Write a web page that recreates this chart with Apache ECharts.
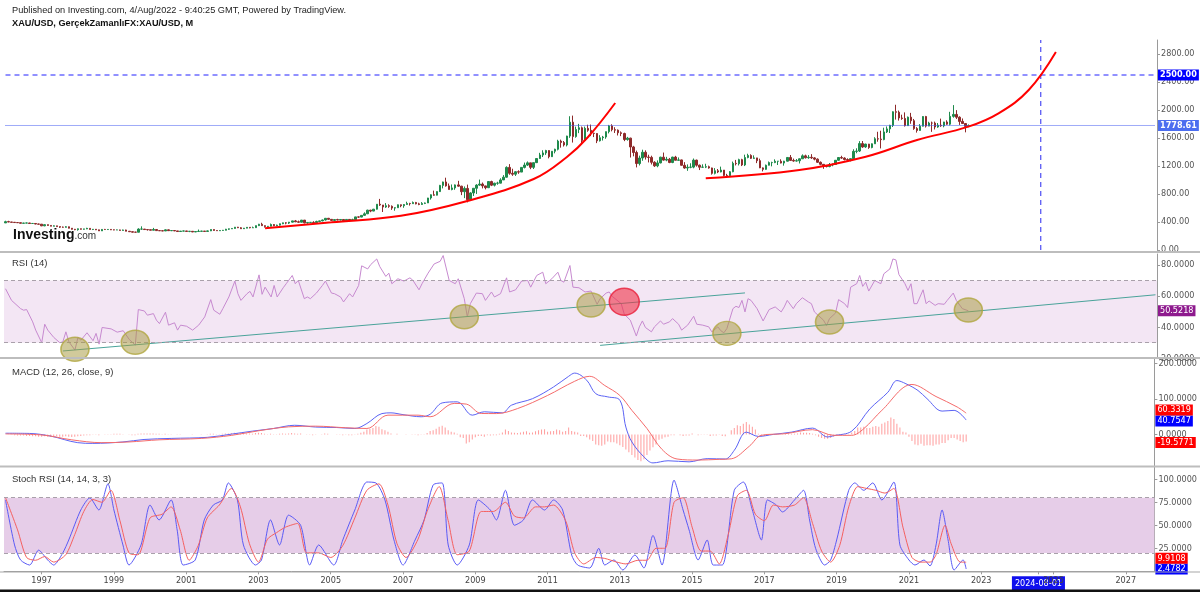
<!DOCTYPE html>
<html>
<head>
<meta charset="utf-8">
<title>XAU/USD</title>
<script src="https://cdn.jsdelivr.net/npm/echarts/dist/echarts.min.js"></script>
<style>
html, body { margin: 0; padding: 0; background: #fff; }
#chart { width: 1200px; height: 592px; }
</style>
</head>
<body>
<div id="chart"></div>
<script>
// monthly categories 1996-01 .. 2027-10
const months = [];
for (let y = 1996; y <= 2027; y++) {
  for (let m = 1; m <= 12; m++) {
    if (months.length < 382) months.push(y + '-' + (m < 10 ? '0' + m : m));
  }
}

// XAU/USD monthly candles, 1996-01 .. 2022-08
const opens = [
  387,405,400,396,392,390,382,385,386,379,379,371,
  369,345,362,351,340,345,334,326,325,332,311,296,
  290,303,297,301,309,293,296,288,273,294,292,294,
  288,287,287,280,286,268,261,255,254,299,299,292,
  290,283,293,277,275,272,288,276,278,273,264,270,
  272,266,267,258,264,267,270,266,273,293,279,275,
  279,282,297,302,308,326,318,304,312,324,317,319,
  348,368,348,336,339,364,346,355,375,388,384,398,
  416,403,397,427,388,394,395,391,408,416,429,453,
  438,423,434,428,436,417,437,429,433,473,470,495,
  517,569,556,583,654,643,614,633,624,599,604,646,
  632,650,665,662,679,659,650,666,672,743,789,783,
  834,923,972,916,864,887,930,912,833,880,718,815,
  882,927,942,916,890,978,926,954,955,1001,1040,1180,
  1096,1083,1118,1113,1180,1213,1245,1181,1248,1307,1357,1387,
  1421,1333,1411,1439,1556,1536,1500,1628,1826,1620,1722,1746,
  1565,1738,1710,1668,1664,1560,1604,1614,1691,1773,1719,1712,
  1675,1664,1578,1598,1472,1393,1235,1314,1396,1327,1323,1253,
  1202,1244,1326,1284,1296,1250,1327,1282,1287,1210,1171,1182,
  1184,1284,1212,1183,1184,1190,1172,1095,1132,1115,1142,1065,
  1061,1118,1238,1233,1291,1215,1321,1351,1309,1316,1276,1173,
  1152,1211,1249,1249,1268,1268,1242,1269,1322,1280,1271,1275,
  1303,1345,1318,1325,1316,1298,1253,1224,1201,1192,1215,1222,
  1282,1321,1313,1292,1284,1305,1409,1414,1520,1472,1513,1464,
  1517,1589,1585,1577,1687,1730,1781,1975,1968,1886,1879,1776,
  1898,1847,1734,1708,1769,1907,1770,1814,1813,1757,1783,1774,
  1829,1797,1909,1937,1897,1837,1807,1766
];
const closes = [
  405,400,396,392,390,382,385,386,379,379,371,369,
  345,362,351,340,345,334,326,325,332,311,296,290,
  303,297,301,309,293,296,288,273,294,292,294,288,
  287,287,280,286,268,261,255,254,299,299,292,290,
  283,293,277,275,272,288,276,278,273,264,270,272,
  266,267,258,264,267,270,266,273,293,279,275,279,
  282,297,302,308,326,318,304,312,324,317,319,348,
  368,348,336,339,364,346,355,375,388,384,398,416,
  403,397,427,388,394,395,391,408,416,429,453,438,
  423,434,428,436,417,437,429,433,473,470,495,517,
  569,556,583,654,643,614,633,624,599,604,646,632,
  650,665,662,679,659,650,666,672,743,789,783,834,
  923,972,916,864,887,930,912,833,880,718,815,882,
  927,942,916,890,978,926,954,955,1001,1040,1180,1096,
  1083,1118,1113,1180,1213,1245,1181,1248,1307,1357,1387,1421,
  1333,1411,1439,1556,1536,1500,1628,1826,1620,1722,1746,1565,
  1738,1710,1668,1664,1560,1604,1614,1691,1773,1719,1712,1675,
  1664,1578,1598,1472,1393,1235,1314,1396,1327,1323,1253,1202,
  1244,1326,1284,1296,1250,1327,1282,1287,1210,1171,1182,1184,
  1284,1212,1183,1184,1190,1172,1095,1132,1115,1142,1065,1061,
  1118,1238,1233,1291,1215,1321,1351,1309,1316,1276,1173,1152,
  1211,1249,1249,1268,1268,1242,1269,1322,1280,1271,1275,1303,
  1345,1318,1325,1316,1298,1253,1224,1201,1192,1215,1222,1282,
  1321,1313,1292,1284,1305,1409,1414,1520,1472,1513,1464,1517,
  1589,1585,1577,1687,1730,1781,1975,1968,1886,1879,1776,1898,
  1847,1734,1708,1769,1907,1770,1814,1813,1757,1783,1774,1829,
  1797,1909,1937,1897,1837,1807,1766,1778.61
];
const highs = [
  418,417,400,398,395,391,387,390,388,386,383,374,
  370,366,364,354,351,346,335,335,340,334,312,301,
  307,306,303,317,309,300,298,290,300,301,300,298,
  292,290,290,291,290,270,265,260,310,338,300,296,
  290,316,300,283,282,294,292,280,280,273,271,277,
  273,270,270,266,292,274,271,279,294,294,279,280,
  286,302,306,310,329,330,326,315,327,325,334,349,
  373,389,351,342,378,370,362,378,391,397,401,417,
  429,420,429,429,394,400,411,418,420,434,456,458,
  432,437,446,438,436,440,439,447,474,479,495,538,
  575,574,587,655,730,636,670,653,637,610,650,650,
  656,690,674,693,687,675,684,678,745,795,848,838,
  930,976,1033,950,936,936,988,917,908,934,825,881,
  940,1006,964,912,982,990,961,975,1025,1070,1195,1227,
  1161,1127,1138,1181,1249,1265,1245,1248,1307,1388,1425,1431,
  1425,1411,1447,1575,1577,1557,1632,1911,1920,1763,1802,1764,
  1763,1790,1792,1676,1668,1640,1630,1693,1787,1796,1754,1722,
  1694,1676,1616,1604,1488,1420,1348,1433,1424,1361,1347,1268,
  1280,1332,1392,1331,1315,1332,1345,1322,1291,1255,1223,1239,
  1307,1290,1220,1224,1232,1205,1176,1170,1157,1191,1142,1088,
  1128,1263,1287,1304,1303,1362,1375,1367,1352,1317,1305,1180,
  1220,1264,1261,1295,1270,1296,1274,1325,1357,1306,1299,1307,
  1366,1362,1356,1369,1326,1309,1265,1221,1214,1243,1237,1284,
  1326,1346,1324,1310,1305,1439,1453,1555,1557,1518,1516,1523,
  1611,1689,1704,1747,1765,1789,1981,2075,1992,1933,1966,1906,
  1959,1872,1755,1798,1912,1916,1832,1834,1834,1814,1877,1831,
  1853,1974,2070,1998,1910,1879,1814,1794
];
const lows = [
  387,398,395,390,389,380,381,384,378,377,368,366,
  341,340,347,339,339,333,315,318,321,309,292,283,
  277,292,292,298,292,285,285,272,273,290,290,285,
  283,285,278,278,268,258,252,251,254,289,290,278,
  282,282,276,272,270,272,275,270,270,263,263,267,
  262,255,256,256,262,265,265,264,270,277,272,272,
  277,281,287,300,305,313,302,300,311,310,315,316,
  342,346,320,324,338,341,340,350,369,367,371,394,
  398,389,394,381,375,387,387,385,398,411,422,433,
  418,411,425,423,414,415,418,427,431,457,468,492,
  513,540,554,578,630,543,602,603,573,561,603,611,
  603,646,635,660,652,640,644,656,672,720,776,780,
  846,880,905,864,853,860,905,784,741,681,705,772,
  801,917,880,866,885,913,908,932,995,1000,1035,1075,
  1059,1058,1088,1113,1165,1200,1155,1157,1242,1315,1328,1359,
  1309,1329,1381,1423,1462,1478,1480,1602,1535,1604,1669,1523,
  1563,1689,1627,1613,1527,1550,1564,1589,1666,1695,1672,1636,
  1627,1555,1562,1321,1338,1180,1208,1275,1292,1251,1222,1187,
  1182,1238,1277,1268,1240,1240,1281,1273,1206,1161,1131,1168,
  1167,1191,1142,1175,1170,1162,1077,1080,1098,1109,1052,1046,
  1061,1111,1208,1208,1199,1199,1310,1300,1302,1241,1170,1123,
  1146,1208,1195,1241,1214,1237,1205,1265,1271,1261,1264,1236,
  1302,1307,1303,1301,1281,1245,1211,1160,1180,1182,1196,1221,
  1276,1302,1280,1266,1266,1295,1382,1400,1459,1459,1445,1453,
  1517,1547,1451,1568,1671,1671,1757,1863,1849,1860,1764,1775,
  1803,1717,1677,1705,1765,1750,1792,1688,1722,1746,1759,1753,
  1788,1780,1890,1872,1787,1806,1681,1754
];

// horizontal levels and the target date drawn on the price pane
const levelTarget = 2500;
const levelLast = 1778.61;
const targetMonth = '2024-08';

// hand-drawn red curves on the price pane, [month index, price]
const curveA = [[86,312],[108,395],[131,488],[153,700],[175,1014],[186,1329],[193,1614],[202,2100]];
const curveB = [[232,1024],[263,1143],[285,1333],[302,1571],[319,1762],[329,1952],[339,2286],[348,2829]];

// RSI (14), [month index, value]
const rsiPoints = [
  [0,64.7],[2,57.2],[5,51.9],[6,50.9],[7,51.3],[9,43.4],[10,38.1],[12,30],[13,41.9],[14,38.1],
  [16,33.4],[18,30],[19,30.6],[20,37],[21,30.6],[23,25.3],[24,33.4],[25,31.7],[27,36.4],[29,31.3],
  [30,36],[31,29.1],[32,39.8],[35,38.9],[37,36.8],[39,37.7],[41,32.1],[43,28.5],[44,51.3],[46,50.4],
  [47,47.7],[49,48.7],[50,44.5],[51,42.3],[53,49.6],[54,41.3],[56,42.8],[57,38.1],[58,41.3],[60,40.6],
  [62,38.1],[64,41.3],[66,46.6],[68,57.7],[69,50.9],[71,48.3],[72,51.9],[74,59.4],[76,69.6],[77,61.5],
  [78,57.2],[80,61.5],[81,63],[82,59.4],[84,73.6],[85,61.1],[86,65.7],[88,59.4],[89,66.8],[90,59.4],
  [92,65.3],[93,67.9],[95,73.2],[96,67.9],[97,70],[99,58.3],[100,59.4],[101,58.3],[103,61.9],[105,66.8],
  [106,69.6],[108,61.9],[109,61.5],[111,59.4],[112,56.2],[114,61.5],[115,59.4],[117,66.8],[118,79.4],[120,77.4],
  [121,80.2],[123,83.8],[124,78.9],[126,72.6],[127,74.7],[128,67.9],[130,71.1],[132,69.6],[134,71.7],[135,70],
  [137,64],[138,67.9],[140,74.7],[142,80.6],[144,82.3],[145,86],[147,70],[149,67.9],[150,71.1],[152,58.3],
  [153,46.6],[154,55.1],[156,61.9],[158,61.5],[159,57.2],[161,62.6],[162,59.4],[164,61.5],[166,71.7],[167,62.6],
  [169,64],[171,69.6],[173,70],[174,65.7],[176,73.2],[178,75.3],[179,67.9],[181,71.1],[183,75.3],[184,70],
  [185,68.9],[187,79.6],[188,65.7],[190,65.3],[192,62.6],[194,63.2],[196,54.7],[197,58.3],[199,61.9],[200,62.6],
  [201,59.8],[204,55.1],[205,48.3],[207,44.5],[209,34.3],[210,40.2],[211,44],[212,39.8],[214,37],[215,40.2],
  [217,44],[218,41.9],[220,43.4],[221,45.5],[223,41.9],[224,38.1],[226,41.3],[228,47],[229,41.9],[231,41.3],
  [233,40.2],[234,37],[236,40.2],[237,37.7],[238,36.4],[239,39.1],[241,51.9],[242,53.4],[243,52.6],[244,57.2],
  [245,49.8],[246,58.3],[247,57.2],[249,51.9],[251,44],[252,47.7],[253,51.3],[255,53],[257,49.8],[258,53],
  [259,57.2],[261,51.9],[262,55.1],[264,58.9],[266,56.2],[267,55.1],[268,49.8],[271,44.5],[272,41.1],[273,45.5],
  [275,49.1],[276,57.7],[278,55.1],[279,52.6],[280,65.7],[282,67.9],[283,73.2],[284,66.2],[285,68.9],[286,63.2],
  [288,70],[289,68.9],[290,67.9],[291,74.3],[293,77.4],[294,83.8],[295,83.2],[296,73.8],[298,67.9],[299,63.6],
  [300,67.9],[301,55.1],[302,55.1],[304,64],[305,55.1],[306,56.8],[308,54],[309,55.1],[311,54.7],[312,57.2],
  [314,61.9],[315,57.2],[317,51.9],[319,50.5218]
];
// trend lines and marked circles on the RSI pane
const rsiTrendA = [[19,24.7],[245,62]];
const rsiTrendB = [[197,28.3],[381,60.8]];
const rsiMarks = [[23,25.8],[43,30.3],[152,46.7],[194,54.2],[239,36],[273,43.3],[319,51]];
const rsiRedMark = [[205,56.3]];

// MACD (12, 26, close, 9)
const macdPoints = [
  [0,3.6],[8,3],[15,-4.5],[24,-23],[29,-25],[39,-21],[46,-14],[55,-11],[67,-8],[75,1],
  [82,9.5],[89,17],[96,26],[103,21],[110,19.7],[116,17],[120,31],[125,59],[128,61],[132,56],
  [138,50],[141,57],[145,89],[150,92],[155,54.5],[159,64],[165,61],[168,82.6],[175,101],[182,134],
  [187,164],[189,173],[193,153],[196,115],[200,106],[204,96.7],[206,21],[208,-21],[212,-63],[215,-80],
  [220,-74],[227,-77],[233,-68],[239,-69],[242,-44.6],[246,6.7],[250,-5.4],[255,0.3],[261,6.7],[268,18],
  [273,-7],[275,-3.4],[281,9.5],[287,72],[293,119],[296,152],[299,143],[303,124],[306,101],[311,66],
  [315,68],[319,40.7547]
];
const signalPoints = [
  [0,1.6],[12,-1.2],[22,-15],[32,-23],[41,-21],[51,-15],[65,-11],[75,-2.5],[84,10.5],[94,21.6],
  [103,23.5],[113,19],[120,17],[127,54.5],[137,54.5],[141,50],[149,87.6],[153,85.7],[158,59.2],[163,59],
  [170,73],[180,110],[189,150],[194,164],[199,138],[204,110],[208,68],[213,17],[218,-42],[223,-69],
  [230,-72],[237,-70],[241,-68.5],[247,-33],[251,-2.3],[259,2.4],[268,13.6],[275,-2.3],[281,-2.3],[285,16.4],
  [291,68],[301,141],[309,107],[316,77.6],[319,60.3319]
];
const macdHist = [
  0,0,-1,-2,-3,-3,-3,-4,-4,-5,-5,-6,
  -6,-5,-6,-6,-5,-5,-6,-6,-5,-6,-7,-6,
  -5,-4,-3,-2,-2,-1,-1,-2,0,1,1,1,
  2,2,2,1,0,-1,-2,-2,2,3,3,3,
  3,3,2,2,1,2,1,1,0,-1,-1,0,
  0,0,-1,0,0,1,0,1,2,2,1,1,
  2,3,3,4,5,4,3,3,3,3,2,4,
  5,4,2,1,2,1,1,2,3,2,3,4,
  3,2,3,0,-1,-1,-2,-1,0,1,3,2,
  0,0,-1,-1,-2,-1,-2,-2,1,2,5,8,
  14,16,18,24,22,15,12,8,3,0,2,0,
  0,1,0,1,-1,-2,-1,-1,4,10,12,16,
  22,25,20,12,8,6,2,-8,-10,-25,-22,-14,
  -8,-4,-4,-6,-2,-3,-2,-2,2,6,14,10,
  6,5,4,6,8,9,5,6,9,12,14,15,
  8,9,10,14,12,8,10,20,10,8,6,-4,
  -4,-8,-14,-18,-28,-30,-32,-28,-20,-22,-22,-25,
  -30,-35,-42,-50,-58,-65,-72,-75,-70,-58,-45,-36,
  -28,-15,-12,-8,-6,-2,-2,0,-2,-4,-3,-3,
  3,0,-2,-1,-1,-1,-4,-3,-3,-1,-4,-5,
  0,12,18,26,24,30,35,28,22,14,2,-4,
  -4,-2,-1,0,1,0,1,4,3,2,2,3,
  6,5,5,4,2,-2,-6,-10,-12,-12,-10,-6,
  -2,0,-1,-2,-1,6,10,20,20,22,18,18,
  22,24,22,30,34,38,48,44,30,20,8,6,
  -6,-18,-28,-30,-26,-32,-30,-30,-32,-28,-28,-24,
  -24,-16,-10,-10,-14,-18,-22,-19.5771
];

// Stoch RSI (14, 14, 3, 3)
const stochK = [
  [0,77.5],[3,28.6],[5,12.3],[8,6.8],[11,23],[14,12.3],[16,6.8],[19,19.9],[21,34],[25,66.6],
  [28,79.7],[31,66.6],[34,95],[36,66.6],[39,28.6],[41,6.8],[45,28.6],[48,72],[51,55.8],[55,77.5],
  [57,44.9],[59,6.8],[63,12.3],[66,55.8],[69,72],[72,77.5],[74,96],[77,77.5],[79,28.6],[83,6.8],
  [85,12.3],[88,55.8],[91,28.6],[94,61],[98,50],[101,6.8],[104,28.6],[109,6.8],[112,34],[116,66.6],
  [120,97],[123,96],[126,77.5],[129,34],[132,6.8],[136,34],[139,55.8],[142,93.8],[145,96],[147,28.6],
  [150,6.8],[154,28.6],[157,77.5],[161,66.6],[163,55.8],[166,88],[169,50],[172,55.8],[175,77.5],[179,66.6],
  [182,77.5],[185,66.6],[188,17.7],[190,6.8],[194,3.6],[197,25],[199,6.8],[202,12.3],[205,1.4],[209,17.7],
  [212,3.6],[215,39],[218,6.8],[222,99],[225,66.6],[227,44.9],[230,12.3],[233,34],[235,6.8],[238,6.8],
  [242,88],[245,97],[248,66.6],[251,34],[253,77.5],[256,72],[258,64.5],[262,77.5],[265,88],[267,55.8],
  [269,25],[272,6.8],[274,12.3],[276,34],[280,88],[282,96],[285,88],[288,96],[291,77.5],[295,97],
  [297,28.6],[300,12.3],[302,6.8],[305,12.3],[307,5.8],[309,28.6],[311,66.6],[313,34],[315,1.4],[318,12.3],
  [319,2.4782]
];
const stochD = [
  [0,80],[4,45],[7,15],[10,12],[13,16],[16,10],[20,18],[23,40],[26,65],[29,78],
  [32,75],[35,88],[38,55],[41,20],[44,18],[48,58],[52,62],[55,70],[58,45],[61,12],
  [64,28],[67,58],[71,72],[75,90],[78,70],[81,30],[84,10],[87,35],[90,42],[93,48],
  [97,52],[100,20],[104,20],[108,15],[112,28],[116,58],[120,88],[124,95],[127,72],[130,30],
  [133,15],[137,35],[140,65],[144,92],[147,55],[150,18],[154,22],[158,65],[162,65],[166,75],
  [169,60],[172,58],[176,70],[179,70],[182,72],[186,55],[189,20],[192,8],[196,15],[199,14],
  [203,10],[206,8],[210,12],[213,12],[216,25],[219,25],[222,75],[225,80],[228,48],[231,22],
  [234,22],[237,8],[240,40],[243,82],[246,88],[249,62],[252,55],[255,72],[258,70],[262,72],
  [265,80],[268,52],[271,22],[274,10],[277,28],[280,70],[283,92],[286,90],[289,88],[292,85],
  [295,90],[298,48],[301,15],[304,10],[307,10],[309,18],[312,50],[314,30],[317,10],[319,9.9108]
];

const candleData = closes.map(function (c, i) { return [opens[i], c, lows[i], highs[i]]; });
const lastIdx = months.length - 1;

const chart = echarts.init(document.getElementById('chart'));

const AXIS_FONT = '"Liberation Sans Narrow", "DejaVu Sans Condensed", sans-serif';
const L = 4, R = 43;

function tag(v, bg, dy, digits, bold) {
  return {
    yAxis: v,
    lineStyle: { color: 'rgba(0,0,0,0)', width: 0 },
    label: {
      show: true, position: 'end', distance: 1, offset: [0, dy],
      formatter: v.toFixed(digits), color: '#fff', backgroundColor: bg,
      padding: [1, 2, 1, 2], fontSize: 9, fontFamily: AXIS_FONT, fontWeight: bold ? 'bold' : 'normal'
    }
  };
}
function bandLine(v) {
  return { yAxis: v, lineStyle: { color: '#a9a0aa', type: [4, 3], width: 1 }, label: { show: false } };
}

function xAxisFor(i, visible) {
  const ax = {
    type: 'category', gridIndex: i, data: months, boundaryGap: true,
    axisLine: { show: false }, axisTick: { show: false }, axisLabel: { show: false },
    splitLine: { show: false }
  };
  if (visible) {
    const pick = function (idx, v) {
      return (v.slice(5) === '01' && (+v.slice(0, 4)) % 2 === 1) || v === targetMonth;
    };
    ax.axisLine = { show: true, lineStyle: { color: '#9a9a9a' } };
    ax.axisTick = { show: true, interval: pick, alignWithLabel: true, length: 3, lineStyle: { color: '#9a9a9a' } };
    ax.axisLabel = {
      show: true, interval: pick, margin: 5, color: '#444', fontSize: 9, fontFamily: AXIS_FONT,
      formatter: function (v) { return v === targetMonth ? '{hl|' + v + '-01}' : v.slice(0, 4); },
      rich: { hl: { backgroundColor: '#1010ee', color: '#fff', padding: [3, 3, 3, 3], fontSize: 9, fontFamily: AXIS_FONT } }
    };
  }
  return ax;
}

function yAxisFor(i, min, max, interval, digits, hideMin) {
  return {
    type: 'value', gridIndex: i, position: 'right', min: min, max: max, interval: interval,
    axisLine: { show: true, lineStyle: { color: '#9a9a9a' } },
    axisTick: { show: true, length: 3, lineStyle: { color: '#9a9a9a' } },
    splitLine: { show: false },
    axisLabel: {
      color: '#555', fontSize: 9, fontFamily: AXIS_FONT, margin: 4,
      showMaxLabel: false, showMinLabel: !hideMin,
      formatter: function (v) { return v.toFixed(digits); }
    }
  };
}

const option = {
  animation: false,
  backgroundColor: '#ffffff',
  title: [
    { text: 'Published on Investing.com, 4/Aug/2022 - 9:40:25 GMT, Powered by TradingView.', left: 12, top: 6, padding: 0,
      textStyle: { fontSize: 9.2, fontWeight: 'normal', color: '#222', fontFamily: 'Liberation Sans' } },
    { text: 'XAU/USD, GerçekZamanlıFX:XAU/USD, M', left: 12, top: 19, padding: 0,
      textStyle: { fontSize: 9.2, fontWeight: 'bold', color: '#111', fontFamily: 'Liberation Sans' } },
    { text: 'RSI (14)', left: 12, top: 258, padding: 0,
      textStyle: { fontSize: 9.5, fontWeight: 'normal', color: '#333', fontFamily: 'Liberation Sans' } },
    { text: 'MACD (12, 26, close, 9)', left: 12, top: 367, padding: 0,
      textStyle: { fontSize: 9.5, fontWeight: 'normal', color: '#333', fontFamily: 'Liberation Sans' } },
    { text: 'Stoch RSI (14, 14, 3, 3)', left: 12, top: 474, padding: 0,
      textStyle: { fontSize: 9.5, fontWeight: 'normal', color: '#333', fontFamily: 'Liberation Sans' } }
  ],
  grid: [
    { left: L, right: R, top: 40, height: 210 },
    { left: L, right: R, top: 254, height: 104.3 },
    { left: L, right: R, top: 358.2, height: 111.8 },
    { left: L, right: R, top: 467.3, height: 104 }
  ],
  xAxis: [xAxisFor(0, false), xAxisFor(1, false), xAxisFor(2, false), xAxisFor(3, true)],
  yAxis: [
    yAxisFor(0, 0, 3000, 400, 2, false),
    yAxisFor(1, 20, 87, 20, 4, false),
    yAxisFor(2, -100, 215, 100, 4, true),
    yAxisFor(3, 0, 113, 25, 4, true)
  ],
  graphic: [
    { type: 'rect', left: 0, top: 251, shape: { width: 1200, height: 2 }, style: { fill: '#bdbdbd' }, z: 100 },
    { type: 'rect', left: 0, top: 357, shape: { width: 1200, height: 2 }, style: { fill: '#bdbdbd' }, z: 100 },
    { type: 'rect', left: 0, top: 465.5, shape: { width: 1200, height: 2 }, style: { fill: '#bdbdbd' }, z: 100 },
    { type: 'rect', left: 0, top: 571.5, shape: { width: 1200, height: 1 }, style: { fill: '#a8a8a8' }, z: 100 },
    { type: 'rect', left: 0, top: 589.5, shape: { width: 1200, height: 3 }, style: { fill: '#111' }, z: 100 },
    { type: 'text', left: 13, top: 228, z: 100,
      style: { text: '{a|Investing}{b|.com}',
        rich: {
          a: { fontSize: 14, fontWeight: 'bold', fill: '#111', fontFamily: 'Liberation Sans' },
          b: { fontSize: 10, fill: '#333', fontFamily: 'Liberation Sans', padding: [3, 0, 0, 0] }
        } } }
  ],
  series: [
    {
      name: 'XAU/USD', type: 'candlestick', xAxisIndex: 0, yAxisIndex: 0, data: candleData, barWidth: 2,
      itemStyle: { color: '#1f8a4c', color0: '#8e2a2a', borderColor: '#1f8a4c', borderColor0: '#8e2a2a', borderWidth: 1 }
    },
    // target level, last price and target date as plain lines
    {
      name: 'target', type: 'line', xAxisIndex: 0, yAxisIndex: 0, silent: true, symbol: 'none', z: 3,
      data: [[0, levelTarget], [lastIdx, levelTarget]],
      lineStyle: { color: '#2323ff', type: [5, 4], width: 1 },
      markLine: { silent: true, symbol: ['none', 'none'], data: [tag(levelTarget, '#0000ff', 0, 2, true)] }
    },
    {
      name: 'last', type: 'line', xAxisIndex: 0, yAxisIndex: 0, silent: true, symbol: 'none', z: 3,
      data: [[0, levelLast], [lastIdx, levelLast]],
      lineStyle: { color: '#3f57f0', type: [1, 1], width: 1 },
      markLine: { silent: true, symbol: ['none', 'none'], data: [tag(levelLast, '#4c6ef0', 0, 2, true)] }
    },
    {
      name: 'date', type: 'line', xAxisIndex: 0, yAxisIndex: 0, silent: true, symbol: 'none', z: 3,
      data: [[targetMonth, 0], [targetMonth, 3000]],
      lineStyle: { color: '#2828f0', type: [5, 4], width: 1 }
    },
    { type: 'line', xAxisIndex: 0, yAxisIndex: 0, data: curveA, smooth: 0.4, symbol: 'none',
      lineStyle: { color: '#ff0000', width: 2 }, z: 5 },
    { type: 'line', xAxisIndex: 0, yAxisIndex: 0, data: curveB, smooth: 0.4, symbol: 'none',
      lineStyle: { color: '#ff0000', width: 2 }, z: 5 },

    {
      name: 'RSI', type: 'line', xAxisIndex: 1, yAxisIndex: 1, data: rsiPoints, symbol: 'none',
      lineStyle: { color: '#c78ad0', width: 1 },
      markArea: { silent: true, itemStyle: { color: '#f3e6f4' }, data: [[{ yAxis: 30 }, { yAxis: 70 }]] },
      markLine: { silent: true, symbol: ['none', 'none'],
        data: [bandLine(70), bandLine(30), tag(50.5218, '#8e1a8e', 0, 4)] }
    },
    { type: 'line', xAxisIndex: 1, yAxisIndex: 1, data: rsiTrendA, symbol: 'none', lineStyle: { color: '#4aa39a', width: 1 }, z: 4 },
    { type: 'line', xAxisIndex: 1, yAxisIndex: 1, data: rsiTrendB, symbol: 'none', lineStyle: { color: '#4aa39a', width: 1 }, z: 4 },
    { type: 'scatter', xAxisIndex: 1, yAxisIndex: 1, data: rsiMarks, symbol: 'circle', symbolSize: [28, 24], z: 5,
      itemStyle: { color: 'rgba(166,154,64,0.65)', borderColor: '#b0a640', borderWidth: 1.5 } },
    { type: 'scatter', xAxisIndex: 1, yAxisIndex: 1, data: rsiRedMark, symbol: 'circle', symbolSize: [30, 27], z: 5,
      itemStyle: { color: 'rgba(240,50,70,0.75)', borderColor: '#e81e3a', borderWidth: 1.5 } },

    {
      name: 'Histogram', type: 'bar', xAxisIndex: 2, yAxisIndex: 2, data: macdHist, barWidth: 1,
      itemStyle: { color: 'rgba(255,90,90,0.6)' },
      markLine: { silent: true, symbol: ['none', 'none'], data: [tag(-19.5771, '#ff0000', 1, 4)] }
    },
    {
      name: 'MACD', type: 'line', xAxisIndex: 2, yAxisIndex: 2, data: macdPoints, symbol: 'none', smooth: 0.35,
      lineStyle: { color: '#5b63f5', width: 1 },
      markLine: { silent: true, symbol: ['none', 'none'], data: [tag(40.7547, '#0000ff', 1, 4)] }
    },
    {
      name: 'Signal', type: 'line', xAxisIndex: 2, yAxisIndex: 2, data: signalPoints, symbol: 'none', smooth: 0.35,
      lineStyle: { color: '#f56b6b', width: 1 },
      markLine: { silent: true, symbol: ['none', 'none'], data: [tag(60.3319, '#ff0000', -3, 4)] }
    },

    {
      name: 'K', type: 'line', xAxisIndex: 3, yAxisIndex: 3, data: stochK, symbol: 'none', smooth: 0.25,
      lineStyle: { color: '#5a5af5', width: 1 },
      markArea: { silent: true, itemStyle: { color: '#e6cde8' }, data: [[{ yAxis: 20 }, { yAxis: 80 }]] },
      markLine: { silent: true, symbol: ['none', 'none'],
        data: [bandLine(80), bandLine(20), tag(2.4782, '#0000ff', 0, 4)] }
    },
    {
      name: 'D', type: 'line', xAxisIndex: 3, yAxisIndex: 3, data: stochD, symbol: 'none', smooth: 0.25,
      lineStyle: { color: '#f56060', width: 1 },
      markLine: { silent: true, symbol: ['none', 'none'], data: [tag(9.9108, '#ff0000', -4, 4)] }
    }
  ]
};

chart.setOption(option);
</script>
</body>
</html>
